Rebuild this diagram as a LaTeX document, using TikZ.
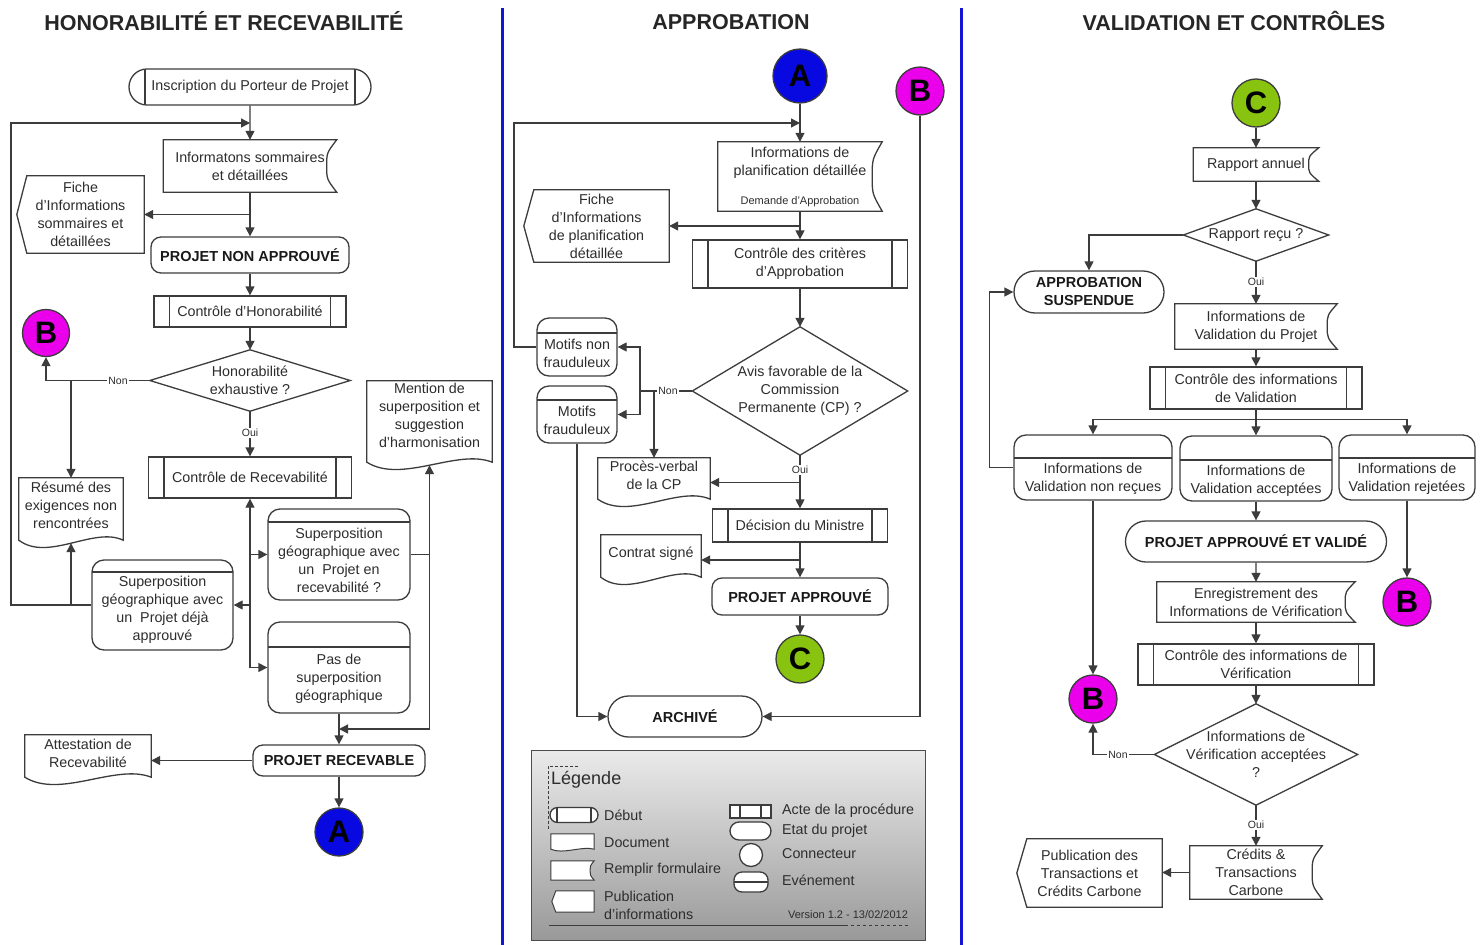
\documentclass[tikz,border=0pt]{standalone}
\usepackage{fontspec}
\setmainfont{Liberation Sans}
\usetikzlibrary{arrows.meta,shapes.misc,calc}
\definecolor{lncol}{RGB}{60,60,60}
\definecolor{txcol}{RGB}{45,45,45}
\definecolor{cA}{RGB}{8,8,225}
\definecolor{cB}{RGB}{235,0,235}
\definecolor{cC}{RGB}{135,195,15}
\definecolor{sepblue}{RGB}{20,20,215}
\begin{document}
\begin{tikzpicture}[x=1pt,y=-1pt,
 ln/.style={draw=lncol, line width=1.3pt},
 shp/.style={draw=lncol, line width=1.3pt, fill=none},
 arr/.style={draw=lncol, line width=1.3pt, -{Triangle[length=9pt,width=9pt]}},
 txt/.style={font=\fontsize{14.3}{18}\selectfont, align=center, inner sep=0pt, text=txcol},
 btxt/.style={font=\fontsize{14.5}{18}\selectfont\bfseries, align=center, inner sep=0pt, text=black!90},
 sz/.style 2 args={minimum width=#1, minimum height=#2},
 proc/.style={txt, rectangle, ln, path picture={\draw[lncol, line width=1.3pt] ([xshift=#1]path picture bounding box.north west) -- ([xshift=#1]path picture bounding box.south west) ([xshift=-#1]path picture bounding box.north east) -- ([xshift=-#1]path picture bounding box.south east);}},
 proc/.default=15.5pt,
 debut/.style={proc=#1, rounded rectangle},
 debut/.default=16pt,
 etat/.style={btxt, rectangle, rounded corners=10pt, ln},
 stad/.style={btxt, rounded rectangle, ln},
 event/.style={rectangle, rounded corners=12pt, ln, inner sep=0pt, path picture={\draw[lncol, line width=1.3pt] ([yshift=-#1]path picture bounding box.north west) -- ([yshift=-#1]path picture bounding box.north east);}},
 doc/.style={inner sep=0pt, append after command={\pgfextra{\let\mynd\tikzlastnode \draw[shp] (\mynd.north west) -- (\mynd.north east) -- ([yshift=#1]\mynd.south east) .. controls ([yshift=2.75*#1]$(\mynd.south west)!0.72!(\mynd.south east)$) and ([yshift=-1.75*#1]$(\mynd.south west)!0.28!(\mynd.south east)$) .. ([yshift=#1]\mynd.south west) -- cycle;}}},
 doc/.default=8pt,
 form/.style={txt, append after command={\pgfextra{\let\mynd\tikzlastnode \draw[shp] (\mynd.south east) -- (\mynd.south west) -- (\mynd.north west) -- (\mynd.north east) .. controls ([xshift=-#1]$(\mynd.north east)!0.5!(\mynd.east)$) .. ([xshift=-#1]\mynd.east) .. controls ([xshift=-#1]$(\mynd.south east)!0.5!(\mynd.east)$) .. (\mynd.south east) -- cycle;}}},
 form/.default=10pt,
 pub/.style={txt, append after command={\pgfextra{\let\mynd\tikzlastnode \draw[shp] (\mynd.west) -- ([xshift=#1]\mynd.north west) -- (\mynd.north east) -- (\mynd.south east) -- ([xshift=#1]\mynd.south west) -- cycle;}}},
 pub/.default=10pt,
 dia/.style={txt, append after command={\pgfextra{\let\mynd\tikzlastnode \draw[shp] (\mynd.north) -- (\mynd.east) -- (\mynd.south) -- (\mynd.west) -- cycle;}}},
 conn/.style={circle, draw=lncol, line width=1.3pt, minimum size=48pt, inner sep=0pt, font=\fontsize{31}{31}\selectfont\bfseries, text=black},
 lbl/.style={font=\fontsize{10.5}{12}\selectfont, fill=white, inner sep=1pt, text=txcol},
 hdr/.style={font=\fontsize{21.5}{24}\selectfont\bfseries, text=black!85, inner sep=0pt},
 ltxt/.style={txt, anchor=west, align=left}
]
\fill[white] (0,0) rectangle (1481,945);
\useasboundingbox (0,0) rectangle (1481,945);

% headers and separators
\node[hdr] (h1) at (224,21) {HONORABILITÉ ET RECEVABILITÉ};
\node[hdr] (h2) at (731,22) {APPROBATION};
\node[hdr] (h3) at (1234,21) {VALIDATION ET CONTRÔLES};
\draw[sepblue, line width=3pt] (502,8) -- (502,945);
\draw[sepblue, line width=3pt] (961,8) -- (961,945);

% ================= LEFT =================
\node[debut, sz={242}{36}] (insc) at (250,87) {Inscription du Porteur de Projet};
\node[form, sz={173}{52}] (infos) at (250,166) {Informatons sommaires\\et détaillées};
\node[pub, sz={127}{77}] (fiche1) at (80.5,214.5) {Fiche\\d’Informations\\sommaires et\\détaillées};
\node[etat, sz={198}{36}] (pna) at (250,255) {PROJET NON APPROUVÉ};
\node[proc, sz={192}{31}] (ctrlh) at (250,311.5) {Contrôle d’Honorabilité};
\node[dia, sz={200}{61}] (honex) at (250,380.5) {Honorabilité\\exhaustive ?};
\node[conn, fill=cB, minimum size=47pt] (B1) at (46,333) {B};
\node[proc, sz={203}{41}] (ctrlr) at (250,477.5) {Contrôle de Recevabilité};
\node[doc, sz={104}{70}] (resume) at (71,513) {};
\node[txt] (resume-t) at (71,505) {Résumé des\\exigences non\\rencontrées};
\node[event=12pt, sz={141}{90}] (sup2) at (162.5,605) {};
\node[txt] (sup2-t) at (162.5,610) {Superposition\\géographique avec\\un\ \ Projet déjà\\approuvé};
\node[event=13pt, sz={142}{91}] (sup1) at (339,554.5) {};
\node[txt] (sup1-t) at (339,560) {Superposition\\géographique avec\\un\ \ Projet en\\recevabilité ?};
\node[event=25pt, sz={142}{91}] (pas) at (339,667.5) {};
\node[txt] (pas-t) at (339,679) {Pas de\\superposition\\géographique};
\node[doc, sz={125}{89}] (mention) at (429.5,425.5) {};
\node[txt] (mention-t) at (429.5,415.5) {Mention de\\superposition et\\suggestion\\d’harmonisation};
\node[etat, sz={172}{31}] (recev) at (339,760.5) {PROJET RECEVABLE};
\node[doc, sz={126}{50}] (attest) at (88,760) {};
\node[txt] (attest-t) at (88,753) {Attestation de\\Recevabilité};
\node[conn, fill=cA] (A1) at (339,832) {A};

\draw[arr] (insc) -- (infos);
\coordinate (loopL) at (11,123);
\draw[arr] (sup2.west) -| (loopL) -- (loopL -| insc.south);
\draw[arr] (infos) -- (pna);
\draw[arr] (infos.south |- fiche1.east) -- (fiche1.east);
\draw[arr] (pna) -- (ctrlh);
\draw[arr] (ctrlh) -- (honex);
\draw[arr] (honex.west) -| (B1.south);
\draw[arr] (resume.north |- honex.west) -- (resume.north);
\node[lbl] (nonL) at (118,380.5) {Non};
\draw[arr] (honex) -- (ctrlr);
\node[lbl] (ouiL) at (250,433) {Oui};
\draw[arr] (ctrlr.south |- pas.west) -- (ctrlr.south);
\draw[arr] (ctrlr.south |- sup1.west) -- (sup1.west);
\draw[arr] (ctrlr.south |- sup2.east) -- (sup2.east);
\draw[arr] (ctrlr.south |- pas.west) -- (pas.west);
\draw[arr] (resume.south |- sup2.west) -- ([yshift=5pt]resume.south);
\draw[ln] (sup1.east) -- (sup1.east -| mention.south);
\draw[arr] (sup1.east -| mention.south) -- ([yshift=5pt]mention.south);
\coordinate (jR) at ($(pas.south)!0.5!(recev.north)$);
\draw[arr] (sup1.east -| mention.south) |- (jR);
\draw[arr] (pas) -- (recev);
\draw[arr] (recev.west) -- (recev.west -| attest.east);
\draw[arr] (recev) -- (A1);

% ================= MIDDLE =================
\node[conn, fill=cA, minimum size=54pt] (A2) at (800,76) {A};
\node[conn, fill=cB] (B2) at (920,91) {B};
\node[form, sz={164}{69}] (iplan) at (800,176.5) {Informations de\\planification détaillée\\[11pt]{\fontsize{11}{13}\selectfont Demande d’Approbation}};
\node[pub, sz={145}{72}] (fiche2) at (596.5,226) {Fiche\\d’Informations\\de planification\\détaillée};
\node[proc, sz={215}{48}] (ctrlc) at (800,264) {Contrôle des critères\\d’Approbation};
\node[dia, sz={215}{128}] (avis) at (800,391) {Avis favorable de la\\Commission\\Permanente (CP) ?};
\node[event=15pt, sz={80}{58}] (mnf) at (577,347) {};
\node[txt] (mnf-t) at (577,353) {Motifs non\\frauduleux};
\node[event=14pt, sz={80}{57}] (mf) at (577,414.5) {};
\node[txt] (mf-t) at (577,420.5) {Motifs\\frauduleux};
\node[doc, sz={112}{49}] (pv) at (654,482.5) {};
\node[txt] (pv-t) at (654,475) {Procès-verbal\\de la CP};
\node[proc, sz={175}{33}] (decis) at (800,525.5) {Décision du Ministre};
\node[doc, sz={100}{50}] (contrat) at (651,560) {};
\node[txt] (contrat-t) at (651,554) {Contrat signé};
\node[etat, sz={176}{37}] (papp) at (800,596.5) {PROJET APPROUVÉ};
\node[conn, fill=cC] (C1) at (800,659) {C};
\node[stad, sz={154}{41}] (archive) at (685,716.5) {ARCHIVÉ};

\draw[arr] (A2) -- (iplan);
\coordinate (loopM) at (514,123);
\draw[arr] (mnf.west) -| (loopM) -- (loopM -| iplan.north);
\draw[arr] (iplan) -- (ctrlc);
\draw[arr] (iplan.south |- fiche2.east) -- (fiche2.east);
\draw[arr] (ctrlc) -- (avis);
\coordinate (jN) at (640,391);
\draw[ln] (avis.west) -- (jN);
\draw[arr] (jN) |- (mnf.east);
\draw[arr] (jN) |- (mf.east);
\draw[arr] (pv.north |- avis.west) -- (pv.north);
\node[lbl] (nonM) at (668,391) {Non};
\draw[arr] (avis) -- (decis);
\node[lbl] (ouiM) at (800,470) {Oui};
\draw[arr] (decis.north |- pv.east) -- (pv.east);
\draw[arr] (decis) -- (papp);
\draw[arr] (decis.south |- contrat.east) -- (contrat.east);
\draw[arr] (papp) -- (C1);
\draw[arr] (mf.south) |- (archive.west);
\draw[arr] (B2.south) |- (archive.east);

% legend
\node[draw=black!70, line width=1pt, top color=black!8, bottom color=black!40, sz={394}{190}, inner sep=0pt] (legend) at (728,845) {};
\node[txt, font=\fontsize{18}{20}\selectfont, anchor=west] (leg-t) at (551,780) {Légende};
\draw[lncol, line width=1pt, dash pattern=on 3pt off 2pt] (578,766) -- (548,766) -- (548,830);
\begin{scope}[shp/.style={draw=lncol, line width=1pt, fill=white}]
\node[debut=7pt, sz={48}{15}, fill=white] (s-deb) at (574,815) {};
\node[doc=2pt, sz={43}{17}] (s-doc) at (572.5,842.5) {};
\node[form=4pt, sz={43}{19}] (s-form) at (572.5,870.5) {};
\node[pub=4pt, sz={42}{21}] (s-pub) at (573,901.5) {};
\node[proc=10pt, sz={41}{13}, fill=white] (s-acte) at (750.5,811.5) {};
\node[stad, sz={41}{18}, fill=white] (s-etat) at (750.5,831) {};
\node[circle, ln, fill=white, minimum size=23pt, inner sep=0pt] (s-conn) at (751,855) {};
\node[event=10pt, rounded corners=8pt, sz={34}{20}, fill=white] (s-evt) at (751,882) {};
\end{scope}
\node[ltxt] (l-deb) at (604,815) {Début};
\node[ltxt] (l-doc) at (604,843) {Document};
\node[ltxt] (l-form) at (604,870) {Remplir formulaire};
\node[ltxt] (l-pub) at (604,905.5) {Publication\\d’informations};
\node[ltxt] (l-acte) at (782,811) {Acte de la procédure};
\node[ltxt] (l-etat) at (782,831) {Etat du projet};
\node[ltxt] (l-conn) at (782,854) {Connecteur};
\node[ltxt] (l-evt) at (782,880) {Evénement};
\node[txt, font=\fontsize{11}{13}\selectfont] (l-ver) at (848,915) {Version 1.2 - 13/02/2012};
\draw[lncol, line width=1pt] (549,925) -- (845,925);
\draw[lncol, line width=1pt, dashed] (845,925) -- (908,925);

% ================= RIGHT =================
\node[conn, fill=cC] (C2) at (1256,103) {C};
\node[form, sz={125}{33}] (rapport) at (1256,164.5) {Rapport annuel};
\node[dia, sz={145}{52}] (rapr) at (1256,235) {Rapport reçu ?};
\node[stad, sz={150}{42}] (susp) at (1089,292) {APPROBATION\\SUSPENDUE};
\node[form, sz={162}{45}] (ivp) at (1256,326.5) {Informations de\\Validation du Projet};
\node[proc, sz={212}{42}] (ctrlv) at (1256,388) {Contrôle des informations\\de Validation};
\node[event=23pt, sz={158}{65}] (nonrec) at (1093,467.5) {};
\node[txt] (nonrec-t) at (1093,479) {Informations de\\Validation non reçues};
\node[event=24pt, sz={152}{65}] (acc) at (1256,468.5) {};
\node[txt] (acc-t) at (1256,481) {Informations de\\Validation acceptées};
\node[event=23pt, sz={136}{65}] (rej) at (1407,467.5) {};
\node[txt] (rej-t) at (1407,479) {Informations de\\Validation rejetées};
\node[stad, sz={261}{41}] (pav) at (1256,541.5) {PROJET APPROUVÉ ET VALIDÉ};
\node[conn, fill=cB] (B4) at (1407,602) {B};
\node[form, sz={198}{40}] (enreg) at (1256,602) {Enregistrement des\\Informations de Vérification};
\node[proc, sz={236}{41}] (ctrlvf) at (1256,664.5) {Contrôle des informations de\\Vérification};
\node[dia, sz={203}{101}] (dverif) at (1256,754.5) {Informations de\\Vérification acceptées\\?};
\node[conn, fill=cB] (B3) at (1093,699) {B};
\node[form, sz={132}{53}] (credits) at (1256,872.5) {Crédits \&\\Transactions\\Carbone};
\node[pub, sz={145}{68}] (pubtc) at (1089.5,873) {Publication des\\Transactions et\\Crédits Carbone};

\draw[arr] (C2) -- (rapport);
\draw[arr] (rapport) -- (rapr);
\draw[arr] (rapr.west) -| (susp.north);
\draw[arr] (rapr) -- (ivp);
\node[lbl] (ouiR1) at (1256,282) {Oui};
\draw[arr] (ivp) -- (ctrlv);
\draw[arr] (ctrlv) -- (acc);
\draw[arr] (ctrlv.south) -- ++(0,10) -| (nonrec.north);
\draw[arr] (ctrlv.south) -- ++(0,10) -| (rej.north);
\draw[arr] (nonrec.west) -| ([xshift=-24pt]susp.west) -- (susp.west);
\draw[arr] (nonrec) -- (B3);
\draw[arr] (acc) -- (pav);
\draw[arr] (rej) -- (B4);
\draw[arr] (pav) -- (enreg);
\draw[arr] (enreg) -- (ctrlvf);
\draw[arr] (ctrlvf) -- (dverif);
\draw[arr] (dverif.west) -| (B3.south);
\node[lbl] (nonR) at (1118,754.5) {Non};
\draw[arr] (dverif) -- (credits);
\node[lbl] (ouiR2) at (1256,825) {Oui};
\draw[arr] (credits.west) -- (credits.west -| pubtc.east);
\end{tikzpicture}
\end{document}
